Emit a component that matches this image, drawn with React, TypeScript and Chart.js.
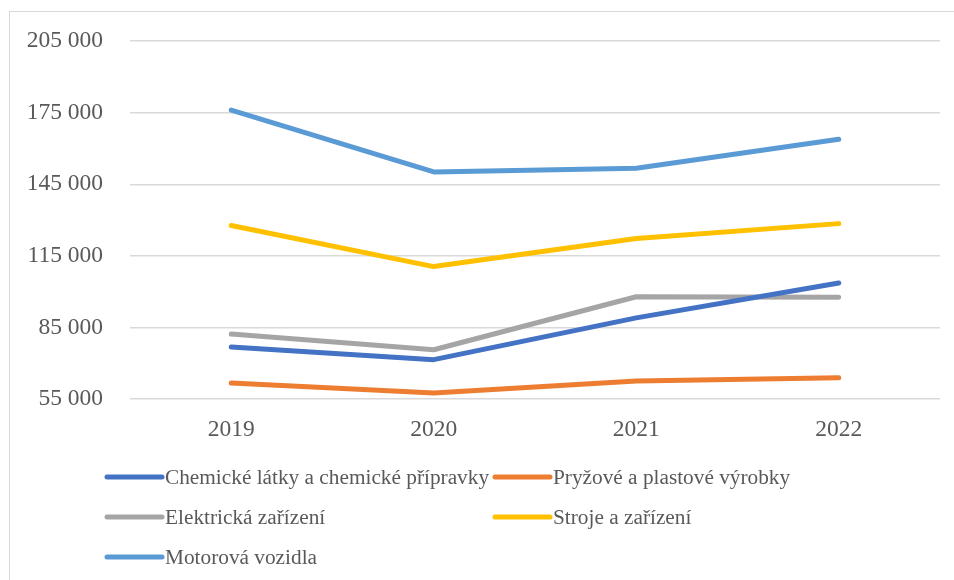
import React, { useEffect, useRef } from "react";
import { Chart, registerables } from "chart.js";

Chart.register(...registerables);

const years = ["2019", "2020", "2021", "2022"];
const chemicke = [76800, 71500, 89000, 103600];
const pryzove = [61700, 57500, 62500, 63900];
const elektricka = [82200, 75650, 97850, 97600];
const stroje = [127700, 110500, 122250, 128500];
const motorova = [176100, 150150, 151700, 163850];

const seriesNames = [
  "Chemické látky a chemické přípravky",
  "Pryžové a plastové výrobky",
  "Elektrická zařízení",
  "Stroje a zařízení",
  "Motorová vozidla",
];
const seriesColors = ["#4472C4", "#ED7D31", "#A5A5A5", "#FFC000", "#5B9BD5"];
const seriesValues = [chemicke, pryzove, elektricka, stroje, motorova];

const yMin = 55000;
const yMax = 205000;
const yStep = 30000;

const FONT = '"Liberation Serif", "Times New Roman", serif';
const TEXT = "#595959";

const frameAndLegend = {
  id: "frameAndLegend",
  beforeDraw(chart: any) {
    const ctx = chart.ctx;
    ctx.save();
    ctx.fillStyle = "#ffffff";
    ctx.fillRect(0, 0, chart.width, chart.height);
    ctx.strokeStyle = "#d9d9d9";
    ctx.lineWidth = 1;
    ctx.strokeRect(9.5, 11.5, chart.width, chart.height);
    ctx.restore();
  },
  afterDraw(chart: any) {
    const ctx = chart.ctx;
    ctx.save();
    ctx.font = `21.3px ${FONT}`;
    ctx.textBaseline = "middle";
    ctx.textAlign = "left";
    const cols = [107, 495];
    const rows = [477, 517, 557];
    chart.data.datasets.forEach((ds: any, i: number) => {
      const col = i % 2;
      const row = Math.floor(i / 2);
      const x = cols[col];
      const y = rows[row];
      ctx.strokeStyle = ds.borderColor;
      ctx.lineWidth = 5;
      ctx.lineCap = "round";
      ctx.beginPath();
      ctx.moveTo(x, y);
      ctx.lineTo(x + 55, y);
      ctx.stroke();
      ctx.fillStyle = TEXT;
      ctx.fillText(ds.label, x + 58, y + 1);
    });
    ctx.restore();
  },
};

export default function App() {
  const ref = useRef<HTMLCanvasElement>(null);
  useEffect(() => {
    if (!ref.current) return;
    const chart = new Chart(ref.current, {
      type: "line",
      data: {
        labels: years,
        datasets: seriesNames.map((name, i) => ({
          label: name,
          data: seriesValues[i],
          borderColor: seriesColors[i],
          backgroundColor: seriesColors[i],
          borderWidth: 5,
          borderCapStyle: "round",
          borderJoinStyle: "round",
          pointRadius: 0,
          tension: 0,
        })),
      },
      options: {
        responsive: false,
        animation: false,
        devicePixelRatio: 1,
        layout: { padding: { left: 0, top: 41, right: 14, bottom: 141 } },
        plugins: {
          legend: { display: false },
          tooltip: { enabled: false },
        },
        scales: {
          x: {
            offset: true,
            grid: { display: false, drawTicks: false },
            border: { display: false },
            ticks: {
              color: TEXT,
              font: { family: FONT, size: 23.5 },
              padding: 17,
              maxRotation: 0,
            },
            afterFit(scale: any) {
              scale.height = 40;
            },
          },
          y: {
            min: yMin,
            max: yMax,
            grid: { color: "#d9d9d9", lineWidth: 1.5, drawTicks: false },
            border: { display: false },
            ticks: {
              stepSize: yStep,
              color: TEXT,
              font: { family: FONT, size: 23.5 },
              padding: 27,
              callback: (v: any) =>
                Number(v).toString().replace(/\B(?=(\d{3})+(?!\d))/g, " "),
            },
            afterFit(scale: any) {
              scale.width = 130;
            },
          },
        },
      },
      plugins: [frameAndLegend],
    });
    return () => chart.destroy();
  }, []);
  return (
    <div style={{ position: "absolute", left: 0, top: 0, width: 954, height: 580 }}>
      <canvas ref={ref} width={954} height={580} style={{ display: "block" }} />
    </div>
  );
}
